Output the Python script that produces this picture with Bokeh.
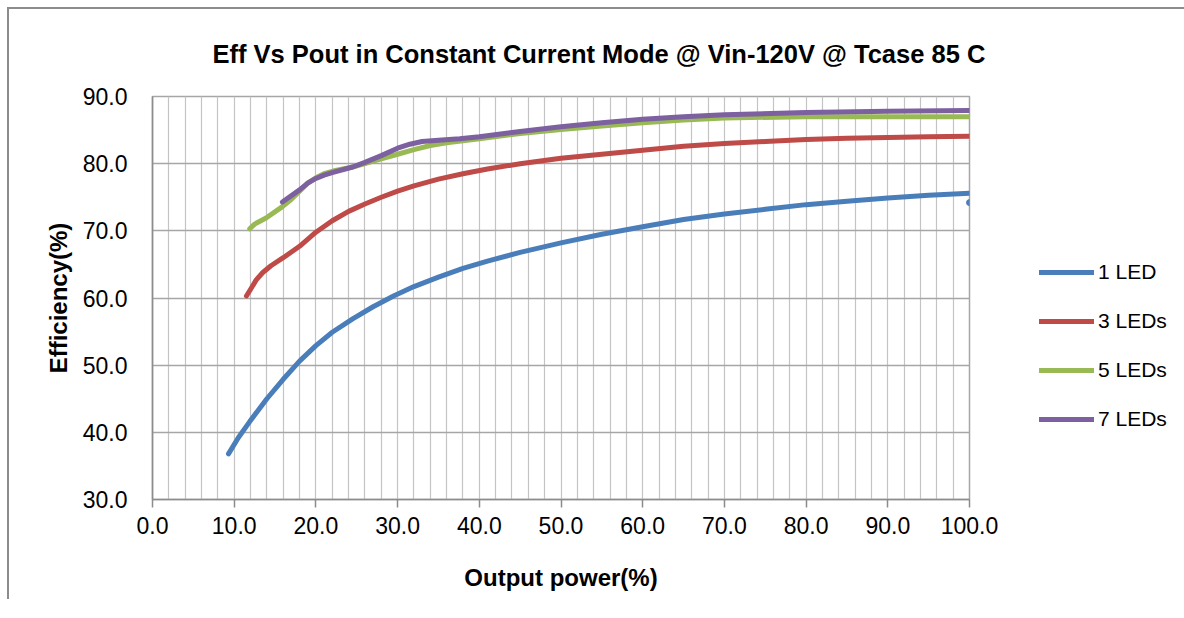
from bokeh.plotting import figure
from bokeh.models import Range1d, Legend, LegendItem, FixedTicker, NumeralTickFormatter
from bokeh.embed import file_html
from bokeh.resources import INLINE

# ---- data ----
title_text = "Eff Vs Pout in Constant Current Mode @ Vin-120V @ Tcase 85 C"
x_label = "Output power(%)"
y_label = "Efficiency(%)"
series_names = ["1 LED", "3 LEDs", "5 LEDs", "7 LEDs"]
series_colors = ["#4A7EBB", "#BE4B48", "#98B954", "#7D60A0"]

led1_x = [9.3, 10.5, 11.9, 14.0, 16.0, 18.0, 20.0, 22.0, 24.5, 27.0, 29.5, 32.0, 35.0,
          38.0, 41.0, 45.0, 50.0, 55.0, 60.0, 65.0, 70.0, 75.0, 80.0, 85.0, 90.0, 95.0, 100.0]
led1_y = [36.8, 39.2, 41.6, 45.0, 47.9, 50.6, 52.9, 54.9, 56.9, 58.7, 60.3, 61.7, 63.1,
          64.4, 65.5, 66.8, 68.2, 69.5, 70.6, 71.7, 72.5, 73.2, 73.9, 74.4, 74.9, 75.3, 75.6]
led1_extra_x = [100.0]
led1_extra_y = [74.2]

led3_x = [11.5, 12.1, 12.7, 13.5, 14.5, 16.0, 18.0, 20.0, 22.0, 24.0, 26.0, 28.0, 30.0,
          32.0, 35.0, 38.0, 41.0, 45.0, 50.0, 55.0, 60.0, 65.0, 70.0, 75.0, 80.0, 85.0,
          90.0, 95.0, 100.0]
led3_y = [60.3, 61.5, 62.7, 63.8, 64.8, 66.0, 67.7, 69.8, 71.5, 72.9, 74.0, 75.0, 75.9,
          76.7, 77.7, 78.5, 79.2, 80.0, 80.8, 81.4, 82.0, 82.6, 83.0, 83.3, 83.6, 83.8,
          83.9, 84.0, 84.1]

led5_x = [11.9, 12.5, 13.9, 15.9, 17.0, 18.0, 19.0, 20.0, 21.0, 22.1, 24.5, 26.0, 28.0,
          30.0, 32.0, 34.0, 36.0, 40.0, 45.0, 50.0, 55.0, 60.0, 65.0, 70.0, 80.0, 90.0, 100.0]
led5_y = [70.3, 71.0, 71.9, 73.6, 74.7, 75.9, 77.1, 77.9, 78.5, 78.9, 79.5, 80.0, 80.7,
          81.4, 82.1, 82.7, 83.1, 83.7, 84.5, 85.1, 85.6, 86.1, 86.5, 86.8, 87.0, 87.0, 87.0]

led7_x = [15.9, 18.0, 19.0, 20.0, 21.0, 22.1, 24.5, 26.0, 28.0, 30.0, 31.5, 33.0, 35.0,
          37.6, 40.0, 45.0, 50.0, 55.0, 60.0, 65.0, 70.0, 80.0, 90.0, 100.0]
led7_y = [74.3, 76.1, 77.1, 77.8, 78.3, 78.7, 79.5, 80.2, 81.2, 82.3, 82.9, 83.3, 83.5,
          83.7, 84.0, 84.8, 85.5, 86.1, 86.6, 87.0, 87.3, 87.6, 87.8, 87.9]

x_ticks = [0, 10, 20, 30, 40, 50, 60, 70, 80, 90, 100]
x_grid_lines = list(range(0, 101, 2))
y_ticks = [30, 40, 50, 60, 70, 80, 90]

FONT = "Liberation Sans"

p = figure(frame_width=817, frame_height=403,
           x_range=Range1d(0, 100), y_range=Range1d(30, 90),
           output_backend="svg", toolbar_location=None,
           min_border_left=143, min_border_right=200,
           min_border_top=87, min_border_bottom=100,
           background_fill_color="white", border_fill_color="white")
p.styles = {"border-left": "2px solid #8c8c8c", "border-top": "2px solid #8c8c8c",
            "margin-left": "7px", "margin-top": "7px"}

xax = p.below[0]
yax = p.left[0]

# title
p.title.text = title_text
p.title.text_font = FONT
p.title.text_font_size = "25.5px"
p.title.text_font_style = "bold"
p.title.text_color = "#000000"
p.title.align = "left"
p.title.offset = 60
p.title.standoff = 57

p.outline_line_color = "#a6a6a6"
p.outline_line_width = 1.5

# axes
xax.ticker = FixedTicker(ticks=x_ticks)
yt = FixedTicker(ticks=y_ticks)
yax.ticker = yt
p.xgrid.ticker = FixedTicker(ticks=x_grid_lines)
p.ygrid.ticker = yt
xax.formatter = NumeralTickFormatter(format="0.0")
yax.formatter = NumeralTickFormatter(format="0.0")
for ax in (xax, yax):
    ax.major_label_text_font = FONT
    ax.major_label_text_font_size = "23px"
    ax.major_label_text_color = "#000000"
    ax.axis_label_text_font = FONT
    ax.axis_label_text_font_size = "24px"
    ax.axis_label_text_font_style = "bold"
    ax.axis_label_text_color = "#000000"
    ax.axis_line_color = "#8c8c8c"
    ax.axis_line_width = 1.5
    ax.major_tick_line_color = "#8c8c8c"
    ax.major_tick_line_width = 1.5
    ax.minor_tick_line_color = None
    ax.major_tick_in = 0
xax.axis_label = x_label
yax.axis_label = y_label
xax.major_tick_out = 8
xax.major_label_standoff = 9
xax.axis_label_standoff = 27
yax.major_tick_out = 0
yax.major_label_standoff = 25
yax.axis_label_standoff = 8

# grids
p.xgrid.grid_line_color = "#c4c4c4"
p.xgrid.grid_line_width = 1.2
p.xgrid.minor_grid_line_color = None
p.ygrid.grid_line_color = "#a6a6a6"
p.ygrid.grid_line_width = 1.5

# series
renderers = []
for xs, ys, c in [(led1_x, led1_y, series_colors[0]), (led3_x, led3_y, series_colors[1]),
                  (led5_x, led5_y, series_colors[2]), (led7_x, led7_y, series_colors[3])]:
    r = p.line(xs, ys, line_color=c, line_width=5, line_join="round", line_cap="round")
    renderers.append(r)
p.scatter(led1_extra_x, led1_extra_y, size=6, fill_color=series_colors[0],
          line_color=series_colors[0])

legend = Legend(items=[LegendItem(label=n, renderers=[r]) for n, r in zip(series_names, renderers)],
                location=(70, 68), orientation="vertical",
                glyph_width=55, glyph_height=24, label_height=24, spacing=25,
                label_standoff=4, padding=0, margin=0,
                label_text_font=FONT, label_text_font_size="21px", label_text_color="#000000",
                border_line_color=None, background_fill_alpha=0)
p.add_layout(legend, "right")

open("out.html", "w").write(file_html(p, INLINE))
